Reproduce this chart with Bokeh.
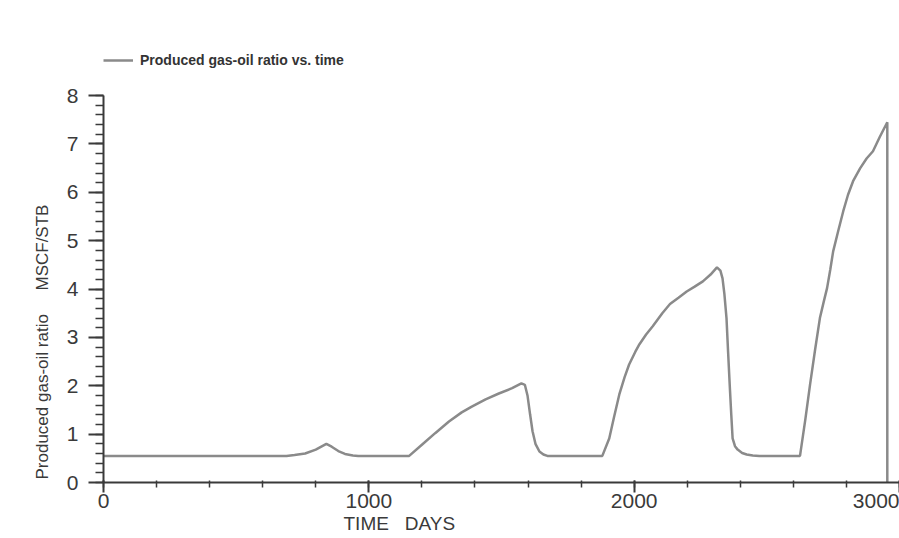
from bokeh.plotting import figure
from bokeh.models import Range1d, FixedTicker, Legend, LegendItem, Title
from bokeh.embed import file_html
from bokeh.resources import INLINE

# Produced gas-oil ratio (MSCF/STB) vs. time (days)
days = [0, 690, 720, 760, 800, 840, 860, 885, 910, 940, 960,
        1152, 1200, 1250, 1302, 1350, 1388, 1440, 1490, 1540, 1575, 1588, 1598,
        1608, 1617, 1628, 1643, 1658, 1673,
        1880, 1906, 1924, 1944, 1964, 1981, 2004, 2020, 2045, 2070, 2106, 2135,
        2167, 2198, 2228, 2259, 2288, 2312, 2325, 2333, 2340, 2348, 2354, 2360,
        2366, 2371, 2380, 2390, 2407, 2424, 2447, 2472,
        2625, 2645, 2663, 2682, 2700, 2715, 2727, 2739, 2750, 2769, 2788, 2806,
        2825, 2852, 2876, 2900, 2926, 2954, 2954]
gor = [0.55, 0.55, 0.57, 0.60, 0.68, 0.80, 0.74, 0.65, 0.59, 0.56, 0.55,
       0.55, 0.78, 1.02, 1.26, 1.45, 1.57, 1.72, 1.84, 1.95, 2.05, 2.02, 1.80,
       1.40, 1.06, 0.80, 0.64, 0.58, 0.55,
       0.55, 0.91, 1.35, 1.82, 2.18, 2.44, 2.70, 2.86, 3.06, 3.23, 3.50, 3.69,
       3.82, 3.95, 4.05, 4.16, 4.30, 4.45, 4.38, 4.22, 3.90, 3.40, 2.70, 2.03,
       1.40, 0.91, 0.75, 0.68, 0.61, 0.58, 0.56, 0.55,
       0.55, 1.30, 2.03, 2.75, 3.40, 3.75, 4.02, 4.40, 4.78, 5.20, 5.61, 5.95,
       6.23, 6.50, 6.70, 6.85, 7.15, 7.45, 0.0]

x_major = [0, 1000, 2000, 3000]
x_minor = list(range(0, 3001, 200))
y_major = [0, 1, 2, 3, 4, 5, 6, 7, 8]
y_minor = [i / 5 for i in range(0, 41)]

series_label = "Produced gas-oil ratio vs. time"
x_title = "TIME\u00a0\u00a0\u00a0DAYS"
y_title = "Produced gas-oil ratio\u00a0\u00a0\u00a0\u00a0\u00a0MSCF/STB"

AX = "#3a3a3a"
FONT = "Liberation Sans"

p = figure(width=899, height=538, x_range=Range1d(0, 3000), y_range=Range1d(0, 9.14),
           output_backend="svg", toolbar_location=None,
           min_border_left=103, min_border_right=0, min_border_top=40, min_border_bottom=56)
p.outline_line_color = None
p.xgrid.visible = False
p.ygrid.visible = False
p.background_fill_color = "white"
p.border_fill_color = "white"

r = p.line(days, gor, line_color="#8a8a8a", line_width=2.5)

for ax in (p.xaxis[0], p.yaxis[0]):
    ax.axis_line_color = AX
    ax.axis_line_width = 2
    ax.major_tick_line_color = AX
    ax.minor_tick_line_color = AX
    ax.major_tick_line_width = 2
    ax.minor_tick_line_width = 1.5
    ax.major_label_text_font = FONT
    ax.major_label_text_font_size = "21px"
    ax.major_label_text_color = AX
    ax.major_label_text_line_height = 1.0

p.xaxis.ticker = FixedTicker(ticks=x_major, minor_ticks=x_minor)
p.xaxis.major_tick_out = 10
p.xaxis.major_tick_in = 2
p.xaxis.minor_tick_out = 5
p.xaxis.minor_tick_in = 2
p.xaxis.major_label_standoff = 1

p.yaxis.ticker = FixedTicker(ticks=y_major, minor_ticks=y_minor)
p.yaxis.bounds = (0, 8)
p.yaxis.major_tick_out = 15
p.yaxis.major_tick_in = 0
p.yaxis.minor_tick_out = 8
p.yaxis.minor_tick_in = 0
p.yaxis.major_label_standoff = 10

p.add_layout(Title(text=x_title, align="left", offset=240, text_font=FONT,
                   text_font_size="19px", text_font_style="normal", text_color=AX,
                   text_line_height=0.75, standoff=0), "below")
p.add_layout(Title(text=y_title, align="left", offset=3, text_font=FONT,
                   text_font_size="17px", text_font_style="normal", text_color=AX,
                   text_line_height=1.0, standoff=24), "left")

legend = Legend(items=[LegendItem(label=series_label, renderers=[r])],
                location=(0, 414), orientation="horizontal",
                label_text_font=FONT, label_text_font_size="14px",
                label_text_font_style="bold", label_text_color="#333333",
                glyph_width=30, glyph_height=12, label_standoff=7,
                padding=0, margin=0, border_line_color=None,
                background_fill_alpha=0)
p.add_layout(legend, "center")

open("out.html", "w").write(file_html(p, INLINE))
